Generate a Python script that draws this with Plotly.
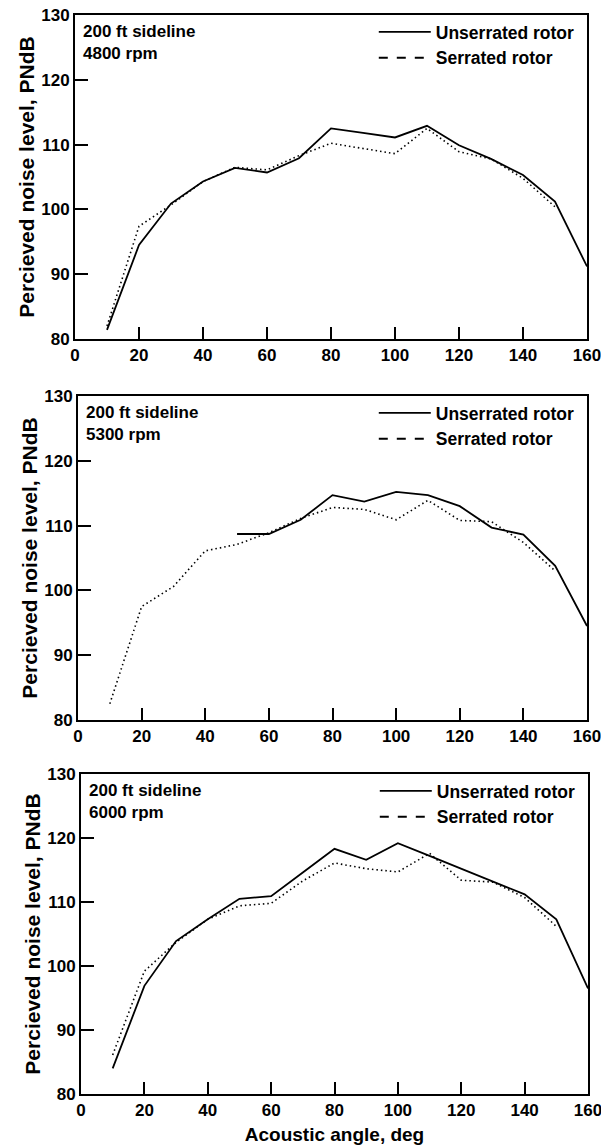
import plotly.graph_objects as go

# ---------------- data ----------------
angles = [10, 20, 30, 40, 50, 60, 70, 80, 90, 100, 110, 120, 130, 140, 150, 160]

unserrated_4800 = [81.4, 94.5, 100.9, 104.3, 106.4, 105.7, 107.9, 112.5, 111.8, 111.1, 112.9, 109.9, 107.8, 105.3, 101.2, 91.2]
serrated_4800 = [82.0, 97.4, 100.7, 104.3, 106.5, 106.1, 108.3, 110.2, 109.4, 108.6, 112.5, 108.9, 107.8, 104.8, 100.4, None]

unserrated_5300 = [None, None, None, None, 108.7, 108.7, 110.9, 114.7, 113.7, 115.2, 114.7, 113.0, 109.7, 108.6, 103.8, 94.5]
serrated_5300 = [82.5, 97.5, 100.6, 106.1, 107.1, 108.9, 111.1, 112.8, 112.5, 110.9, 113.9, 110.8, 110.6, 107.4, 103.0, None]

unserrated_6000 = [84.0, 96.9, 103.9, 107.3, 110.5, 110.9, 114.6, 118.3, 116.6, 119.2, 117.2, 115.2, 113.1, 111.2, 107.3, 96.5]
serrated_6000 = [86.1, 99.2, 103.7, 107.3, 109.4, 109.8, 113.3, 116.1, 115.2, 114.7, 117.6, 113.4, 113.1, 110.7, 106.2, None]

panel_labels = ["200 ft sideline<br>4800 rpm", "200 ft sideline<br>5300 rpm", "200 ft sideline<br>6000 rpm"]
series_names = ["Unserrated rotor", "Serrated rotor"]
x_ticks = [0, 20, 40, 60, 80, 100, 120, 140, 160]
y_ticks = [80, 90, 100, 110, 120, 130]
x_title = "Acoustic angle, deg"
y_title = "Percieved noise level, PNdB"

panels = [
    (unserrated_4800, serrated_4800),
    (unserrated_5300, serrated_5300),
    (unserrated_6000, serrated_6000),
]

# ---------------- layout geometry (page pixels; page body has an 8px margin) ----------------
OFF = 8
W, H = 609 - OFF, 1147 - OFF
px_x = [(75, 587), (78, 587), (81, 588)]
px_y = [(15, 339), (396, 720), (774, 1094)]

FONT = "Liberation Sans, Arial, Helvetica, sans-serif"

fig = go.Figure()
layout = dict(
    width=W, height=H,
    margin=dict(l=0, r=0, t=0, b=0),
    paper_bgcolor="white", plot_bgcolor="white",
    font=dict(family=FONT, color="black", size=17, weight="bold"),
    showlegend=True,
    annotations=[],
)

for i, (uns, ser) in enumerate(panels):
    n = "" if i == 0 else str(i + 1)
    xa, ya = "x" + n, "y" + n
    leg = "legend" + n

    fig.add_trace(go.Scatter(
        x=angles, y=uns, mode="lines", name=series_names[0],
        line=dict(color="black", width=1.8), connectgaps=False,
        xaxis=xa, yaxis=ya, legend=leg, showlegend=True,
    ))
    fig.add_trace(go.Scatter(
        x=angles, y=ser, mode="lines", name=series_names[1],
        line=dict(color="black", width=1.6, dash="1.5px,3px"),
        xaxis=xa, yaxis=ya, legend=leg, showlegend=False,
    ))
    # legend key for the serrated series (dashed, as in the original key)
    fig.add_trace(go.Scatter(
        x=[None], y=[None], mode="lines", name=series_names[1],
        line=dict(color="black", width=2, dash="dash"),
        xaxis=xa, yaxis=ya, legend=leg, showlegend=True,
    ))

    x0, x1 = (v - OFF for v in px_x[i])
    yt, yb = (v - OFF for v in px_y[i])
    xdom = [x0 / W, x1 / W]
    ydom = [1 - yb / H, 1 - yt / H]

    layout["xaxis" + n] = dict(
        domain=xdom, anchor=ya, range=[0, 160], tickvals=x_ticks,
        ticks="inside", ticklen=12, tickwidth=2, tickcolor="black",
        showline=True, linewidth=2, linecolor="black", mirror=True,
        showgrid=False, zeroline=False, automargin=False,
        ticklabeloverflow="allow",
        tickfont=dict(family=FONT, size=17, color="black", weight="bold"),
        title=dict(text=x_title if i == 2 else "",
                   font=dict(family=FONT, size=19, color="black", weight="bold"),
                   standoff=8),
    )
    layout["yaxis" + n] = dict(
        domain=ydom, anchor=xa, range=[80, 130], tickvals=y_ticks,
        ticks="inside", ticklen=13, tickwidth=2, tickcolor="black",
        showline=True, linewidth=2, linecolor="black", mirror=True,
        showgrid=False, zeroline=False, automargin=False,
        ticklabeloverflow="allow",
        tickfont=dict(family=FONT, size=17, color="black", weight="bold"),
        title=dict(text=y_title,
                   font=dict(family=FONT, size=21, color="black", weight="bold"),
                   standoff=1),
    )
    layout[leg] = dict(
        x=x1 / W - 0.012, xanchor="right",
        y=ydom[1] + 1.0 / H, yanchor="top",
        bgcolor="rgba(0,0,0,0)", borderwidth=0,
        itemwidth=52, tracegroupgap=0,
        font=dict(family=FONT, size=17.5, color="black", weight="bold"),
    )
    layout["annotations"].append(dict(
        text=panel_labels[i], xref=xa + " domain", yref=ya + " domain",
        x=0.012, y=0.985, xanchor="left", yanchor="top", align="left",
        showarrow=False,
        font=dict(family=FONT, size=17, color="black", weight="bold"),
    ))

fig.update_layout(**layout)
fig.write_html("out.html")
